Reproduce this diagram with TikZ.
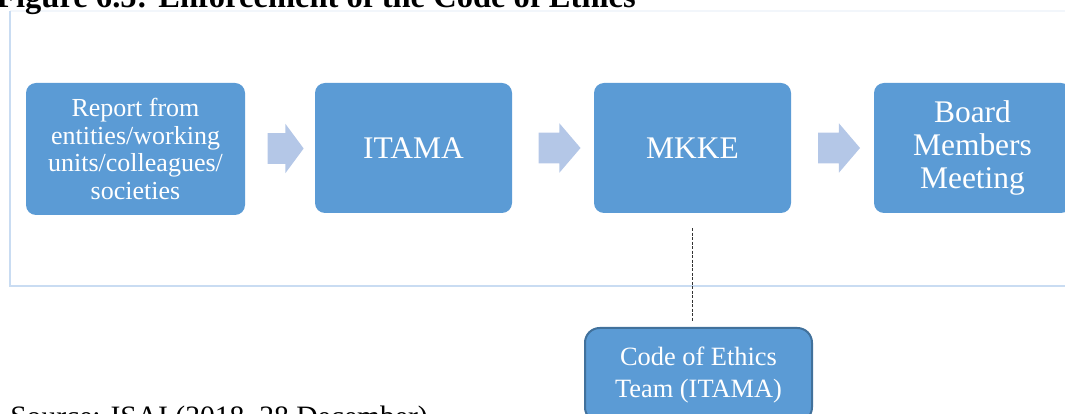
\documentclass[tikz,border=0pt]{standalone}
\usepackage{fontspec}
\setmainfont{Liberation Serif}
\usetikzlibrary{shapes.arrows,calc}

\definecolor{boxblue}{HTML}{5B9BD5}
\definecolor{boxedge}{HTML}{41719C}
\definecolor{arrowblue}{HTML}{B4C7E7}
\definecolor{framelight}{HTML}{C9DCF2}
\definecolor{frametop}{HTML}{F2F6FB}

\begin{document}
\begin{tikzpicture}[x=0.75pt, y=0.75pt]
  \tikzstyle{blk} = [fill=boxblue, text=white, rounded corners=7.5pt, align=center, inner sep=2pt]
  \tikzstyle{txtbig} = [font=\fontsize{23.6}{24.75}\selectfont]
  \tikzstyle{txtsmall} = [font=\fontsize{19.5}{20.6}\selectfont]
  \tikzstyle{flow} = [single arrow, fill=arrowblue, inner xsep=0pt, inner ysep=11.25pt,
                      single arrow head extend=7.1pt]

  \useasboundingbox (0,0) rectangle (1065,414);

  % khung nen
  \draw[frametop, line width=1pt] (10,403) -- (1070,403);
  \draw[framelight, line width=1.5pt] (10,403) -- (10,128) -- (1070,128);

  % tieu de va nguon
  \node[anchor=base east, inner sep=0pt, font=\bfseries\fontsize{24.4}{28}\selectfont] (title) at (636,406)
    {Figure 6.5: Enforcement of the Code of Ethics};
  \node[anchor=base west, inner sep=0pt, font=\fontsize{22.2}{26}\selectfont] (src) at (10,-13)
    {Source: ISAI (2018, 28 December)};

  % cac khoi chinh
  \node[blk, txtsmall, minimum width=164.25pt, minimum height=99pt] (rep) at (135.5,265)
    {Report from\\entities/working\\units/colleagues/\\societies};
  \node[blk, txtbig, minimum width=147.75pt, minimum height=97.5pt] (itama) at (413.5,266) {ITAMA};
  \node[blk, txtbig, minimum width=147.75pt, minimum height=97.5pt] (mkke) at (692.5,266) {MKKE};
  \node[blk, txtbig, minimum width=147.75pt, minimum height=97.5pt] (board) at (972.5,266)
    {Board\\Members\\Meeting};

  % mui ten khoi giua cac buoc
  \node[flow, minimum height=27pt, single arrow tip angle=107] (f1) at ($(rep.east)!0.5!(itama.west)$) {};
  \node[flow, minimum height=31.5pt, single arrow tip angle=99] (f2) at ($(itama.east)!0.5!(mkke.west)$) {};
  \node[flow, minimum height=31.5pt, single arrow tip angle=99] (f3) at ($(mkke.east)!0.5!(board.west)$) {};

  % nhom dao duc
  \node[blk, draw=boxedge, line width=1.5pt, rounded corners=11pt, minimum width=170.25pt,
        minimum height=70.5pt, font=\fontsize{19.8}{23.5}\selectfont] (team) at (698.5,39)
    {Code of Ethics\\Team (ITAMA)};

  % duong net dut tu MKKE xuong
  \draw[black!80, line width=0.75pt, dash pattern=on 2.25pt off 1.1pt,
        shorten <=11.25pt, shorten >=3.75pt] (mkke.south) -- (mkke.south |- team.north);
\end{tikzpicture}
\end{document}
